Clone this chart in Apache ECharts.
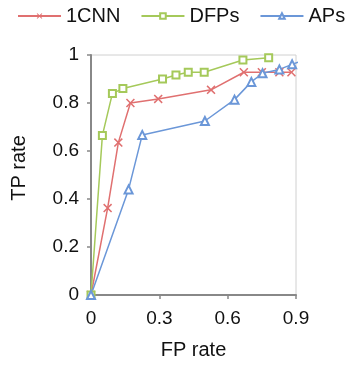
<!DOCTYPE html>
<html><head><meta charset="utf-8">
<script src="https://cdn.jsdelivr.net/npm/echarts@6/dist/echarts.min.js"></script>
<style>html,body{margin:0;padding:0;background:#fff}#c{width:349px;height:365px}</style>
</head><body><div id="c"></div>
<script>
const seriesNames = ['1CNN', 'DFPs', 'APs'];
const cnnFP = [0, 0.073, 0.12, 0.173, 0.295, 0.527, 0.671, 0.75, 0.827, 0.88];
const cnnTP = [0, 0.362, 0.635, 0.80, 0.817, 0.855, 0.928, 0.928, 0.928, 0.928];
const dfpFP = [0, 0.05, 0.094, 0.14, 0.314, 0.373, 0.427, 0.497, 0.667, 0.78];
const dfpTP = [0, 0.665, 0.84, 0.86, 0.90, 0.917, 0.928, 0.928, 0.979, 0.989];
const apFP = [0, 0.165, 0.225, 0.5, 0.63, 0.704, 0.753, 0.827, 0.883, 0.909];
const apTP = [0, 0.44, 0.667, 0.725, 0.814, 0.888, 0.924, 0.94, 0.961, 0.97];
const xTicks = ['0', '0.3', '0.6', '0.9'];
const yTicks = ['0', '0.2', '0.4', '0.6', '0.8', '1'];

const zip = (a, b) => a.map((v, i) => [v, b[i]]);
const colors = ['#e07070', '#a5c95a', '#6b97d8'];
const xPath = 'path://M0,1.2L1.2,0L5,3.8L8.8,0L10,1.2L6.2,5L10,8.8L8.8,10L5,6.2L1.2,10L0,8.8L3.8,5Z';

const chart = echarts.init(document.getElementById('c'));
chart.setOption({
  animation: false,
  textStyle: { fontFamily: 'Liberation Sans, Arial, sans-serif' },
  legend: {
    top: 6, left: 17, width: 332, padding: 0, itemWidth: 43, itemHeight: 7, itemGap: 20,
    textStyle: { fontSize: 20, color: '#111' },
    data: seriesNames
  },
  grid: { left: 91, right: 53, top: 55, bottom: 68, show: true, borderColor: '#d0d0d0', borderWidth: 1 },
  xAxis: {
    type: 'value', min: 0, max: 0.9, interval: 0.3,
    name: 'FP rate', nameLocation: 'middle', nameGap: 45,
    nameTextStyle: { fontSize: 20, color: '#111' },
    axisLine: { lineStyle: { color: '#888', width: 2 } },
    axisTick: { show: true, length: 4, lineStyle: { color: '#888', width: 1.5 } },
    axisLabel: { fontSize: 19, color: '#111', margin: 14, formatter: (v) => xTicks[Math.round(v / 0.3)] },
    splitLine: { show: false }
  },
  yAxis: {
    type: 'value', min: 0, max: 1, interval: 0.2,
    name: 'TP rate', nameLocation: 'middle', nameGap: 62,
    nameTextStyle: { fontSize: 20, color: '#111', padding: [0, 0, 0, 14] },
    axisLine: { show: true, lineStyle: { color: '#888', width: 2 } },
    axisTick: { show: true, length: 4, lineStyle: { color: '#888', width: 1.5 } },
    axisLabel: { fontSize: 19, color: '#111', margin: 12, formatter: (v) => yTicks[Math.round(v / 0.2)] },
    splitLine: { show: false }
  },
  series: [
    { name: seriesNames[0], type: 'line', data: zip(cnnFP, cnnTP), symbol: xPath, symbolSize: 9,
      lineStyle: { color: colors[0], width: 1.5 }, itemStyle: { color: colors[0] } },
    { name: seriesNames[1], type: 'line', data: zip(dfpFP, dfpTP), symbol: 'rect', symbolSize: 7,
      lineStyle: { color: colors[1], width: 1.5 }, itemStyle: { color: '#fff', borderColor: colors[1], borderWidth: 2 } },
    { name: seriesNames[2], type: 'line', data: zip(apFP, apTP), symbol: 'triangle', symbolSize: 8,
      lineStyle: { color: colors[2], width: 1.5 }, itemStyle: { color: '#fff', borderColor: colors[2], borderWidth: 2 } }
  ]
});
</script>
</body></html>
